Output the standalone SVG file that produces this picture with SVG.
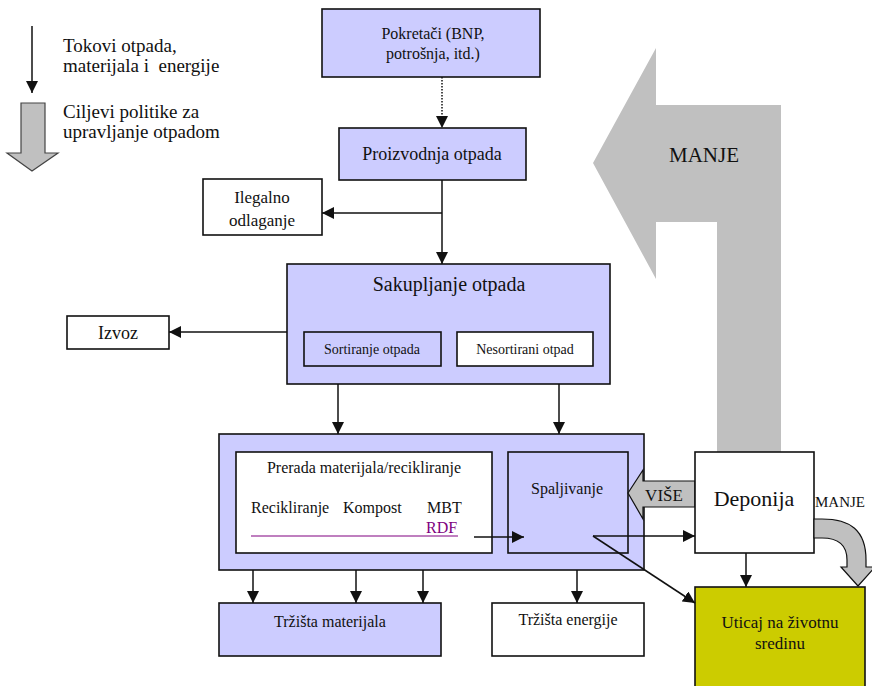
<svg xmlns="http://www.w3.org/2000/svg" width="872" height="686" viewBox="0 0 872 686" font-family="'Liberation Serif','Times New Roman',serif">
<style>
text{font-family:"Liberation Serif","Times New Roman",serif;fill:#111;}
.box{stroke:#111;stroke-width:1.6;}
.lav{fill:#ccccff;}
.wht{fill:#ffffff;}
.ln{stroke:#111;stroke-width:1.5;fill:none;}
.gray{fill:#c0c0c0;}
.c{text-anchor:middle;}
</style>
<defs>
<marker id="ah" markerWidth="12" markerHeight="12" viewBox="0 0 12 12" refX="12" refY="6" orient="auto" markerUnits="userSpaceOnUse">
<path d="M0,0 L12,6 L0,12 z" fill="#111"/>
</marker>
</defs>
<rect width="872" height="686" fill="#fff"/>

<g id="legend">
<line class="ln" x1="32" y1="26" x2="32" y2="93" marker-end="url(#ah)"/>
<text x="63" y="52" font-size="19">Tokovi otpada,</text>
<text x="63" y="72" font-size="19" xml:space="preserve">materijala i  energije</text>
<path d="M21,103 L45,103 L45,153 L58,153 L32,171 L7,153 L21,153 z" fill="#c0c0c0" stroke="#444" stroke-width="1.2"/>
<text x="63" y="118" font-size="19">Ciljevi politike za</text>
<text x="63" y="138" font-size="19">upravljanje otpadom</text>
</g>

<g id="big-arrow-manje">
<path class="gray" d="M593,163 L656,48 L656,105 L781,105 L781,452 L717,452 L717,222 L656,222 L656,279 z"/>
<text x="704" y="162" font-size="21" class="c">MANJE</text>
</g>

<g id="pokretaci">
<rect class="box lav" x="322" y="9" width="218" height="68"/>
<text x="433" y="39" font-size="16" class="c">Pokretači (BNP,</text>
<text x="433" y="59" font-size="16" class="c">potrošnja, itd.)</text>
</g>

<g id="proizvodnja">
<rect class="box lav" x="339" y="128" width="187" height="52"/>
<text x="432" y="160" font-size="18" class="c">Proizvodnja otpada</text>
</g>

<g id="ilegalno">
<rect class="box wht" x="203" y="179" width="119" height="56"/>
<text x="262" y="203" font-size="17" class="c">Ilegalno</text>
<text x="262" y="226" font-size="17" class="c">odlaganje</text>
</g>

<g id="sakupljanje">
<rect class="box lav" x="287" y="264" width="323" height="120"/>
<text x="449" y="291" font-size="20" class="c">Sakupljanje otpada</text>
</g>
<g id="sortiranje">
<rect class="box lav" x="304" y="332" width="137" height="34"/>
<text x="372" y="354" font-size="14" class="c">Sortiranje otpada</text>
</g>
<g id="nesortirani">
<rect class="box wht" x="457" y="332" width="136" height="34"/>
<text x="525" y="354" font-size="14" class="c">Nesortirani otpad</text>
</g>

<g id="izvoz">
<rect class="box wht" x="67" y="316" width="102" height="33"/>
<text x="118" y="339" font-size="18" class="c">Izvoz</text>
</g>

<g id="prerada-outer">
<rect class="box lav" x="219" y="434" width="425" height="136"/>
</g>
<g id="prerada">
<rect class="box wht" x="236" y="452" width="256" height="101"/>
<text x="364" y="473" font-size="16" class="c">Prerada materijala/recikliranje</text>
<text x="251" y="513" font-size="16">Recikliranje</text>
<text x="343" y="513" font-size="16">Kompost</text>
<text x="427" y="513" font-size="16">MBT</text>
<text x="426" y="533" font-size="16" style="fill:#800080">RDF</text>
<line x1="251" y1="536" x2="458" y2="536" stroke="#800080" stroke-width="1.2"/>
</g>
<g id="spaljivanje">
<rect class="box lav" x="508" y="452" width="120" height="101"/>
<text x="567" y="494" font-size="16" class="c">Spaljivanje</text>
</g>

<g id="arrow-vise">
<path d="M628,493 L643,470 L643,481 L695,481 L695,507 L643,507 L643,519 z" fill="#c0c0c0" stroke="#111" stroke-width="1.2"/>
<text x="664" y="501" font-size="17" class="c">VIŠE</text>
</g>

<g id="deponija">
<rect class="box wht" x="695" y="452" width="119" height="101"/>
<text x="754" y="506" font-size="22" class="c">Deponija</text>
</g>

<g id="arrow-manje-right">
<path d="M814,519 L822,519 C850,519 866,530 866,560 L866,567 L875,567 L858,586 L841,567 L847,567 L847,560 C847,545 838,538 822,538 L814,538 z" fill="#c0c0c0" stroke="#111" stroke-width="1.2"/>
<text x="840" y="507" font-size="15" class="c">MANJE</text>
</g>

<g id="trzista-materijala">
<rect class="box lav" x="219" y="603" width="222" height="53"/>
<text x="330" y="627" font-size="16" class="c">Tržišta materijala</text>
</g>
<g id="trzista-energije">
<rect class="box wht" x="492" y="603" width="152" height="53"/>
<text x="568" y="625" font-size="16" class="c">Tržišta energije</text>
</g>

<g id="uticaj">
<rect class="box" fill="#cccc00" x="695" y="587" width="170" height="105"/>
<text x="780" y="628" font-size="17" class="c">Uticaj na životnu</text>
<text x="780" y="649" font-size="17" class="c">sredinu</text>
</g>

<g id="connectors">
<line class="ln" x1="442" y1="77" x2="442" y2="128" stroke-dasharray="1.5,1.5" marker-end="url(#ah)"/>
<line class="ln" x1="442" y1="180" x2="442" y2="264" marker-end="url(#ah)"/>
<line class="ln" x1="442" y1="213" x2="322" y2="213" marker-end="url(#ah)"/>
<line class="ln" x1="287" y1="332" x2="169" y2="332" marker-end="url(#ah)"/>
<line class="ln" x1="338" y1="384" x2="338" y2="434" marker-end="url(#ah)"/>
<line class="ln" x1="559" y1="384" x2="559" y2="434" marker-end="url(#ah)"/>
<line class="ln" x1="253" y1="570" x2="253" y2="603" marker-end="url(#ah)"/>
<line class="ln" x1="356" y1="570" x2="356" y2="603" marker-end="url(#ah)"/>
<line class="ln" x1="423" y1="570" x2="423" y2="603" marker-end="url(#ah)"/>
<line class="ln" x1="577" y1="570" x2="577" y2="603" marker-end="url(#ah)"/>
<line class="ln" x1="474" y1="537" x2="524" y2="537" marker-end="url(#ah)"/>
<line class="ln" x1="593" y1="536" x2="695" y2="536" marker-end="url(#ah)"/>
<line class="ln" x1="593" y1="536" x2="695" y2="603" marker-end="url(#ah)"/>
<line class="ln" x1="746" y1="553" x2="746" y2="587" marker-end="url(#ah)"/>
</g>
</svg>
